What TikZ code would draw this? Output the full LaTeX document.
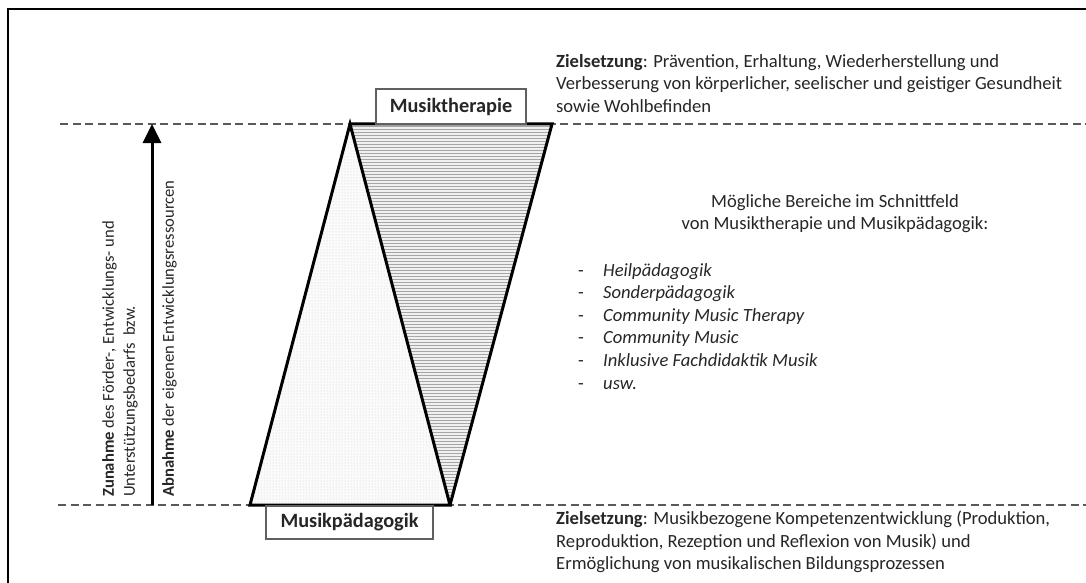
\documentclass[tikz,border=0pt]{standalone}
\usepackage{fontspec}
\setmainfont{Carlito}
\usetikzlibrary{patterns,arrows.meta}
\begin{document}
\begin{tikzpicture}[x=1pt,y=-1pt,
  txt/.style={font=\fontsize{18.6}{22.5}\selectfont, inner sep=0pt, align=left, text=black!85},
  item/.style={font=\fontsize{18.6}{22}\selectfont\itshape, inner sep=0pt, anchor=base west, text=black!85},
  bullet/.style={font=\fontsize{18.6}{22}\selectfont, inner sep=0pt, anchor=base west, text=black!85},
  lbl/.style={draw=gray!75!black, line width=1.2pt, fill=white, font=\fontsize{20.3}{22}\selectfont\bfseries, inner sep=0pt, text=black!85},
  dashline/.style={draw=gray!70!black, line width=1.2pt, dash pattern=on 8pt off 4.5pt},
  thick edge/.style={line width=3pt, line join=miter, black}]
\useasboundingbox (0,0) rectangle (1086,583);
% frame
\draw[line width=2.5pt] (8,583) -- (8,9) -- (1086,9);
% dashed levels
\coordinate (tl) at (60,124);
\coordinate (tr) at (1086,124);
\coordinate (bl) at (58,505);
\coordinate (br) at (1086,505);
\draw[dashline] (tl) -- (tr);
\draw[dashline] (bl) -- (br);
% triangles
\coordinate (A) at (350,124);
\coordinate (B) at (250,505);
\coordinate (C) at (450,505);
\coordinate (D) at (552,124);
\fill[gray!3] (A) -- (B) -- (C) -- cycle;
\fill[pattern=dots, pattern color=gray!40] (A) -- (B) -- (C) -- cycle;
\fill[gray!12] (A) -- (D) -- (C) -- cycle;
\fill[pattern=horizontal lines, pattern color=gray!70] (A) -- (D) -- (C) -- cycle;
\draw[thick edge] (A) -- (B) -- (C) -- cycle;
\draw[thick edge] (A) -- (D) -- (C);
% boxes
\node[lbl, minimum width=150pt, minimum height=35pt] (mt) at (451,106.5) {Musiktherapie};
\node[lbl, minimum width=167pt, minimum height=33pt] (mp) at (349.5,522.5) {Musikpädagogik};
% arrow
\coordinate (a0) at (152,505);
\coordinate (a1) at (152,124);
\draw[line width=3pt, -{Triangle[width=18pt,length=19pt]}] (a0) -- (a1);
% rotated texts
\node[txt, rotate=90, anchor=north west, font=\fontsize{16.6}{21}\selectfont] (zu) at (102,497)
  {\textbf{Zunahme} des Förder-, Entwicklungs- und\\Unterstützungsbedarfs\ \ bzw.};
\node[txt, rotate=90, anchor=north west, font=\fontsize{16.6}{21}\selectfont] (ab) at (162,497)
  {\textbf{Abnahme} der eigenen Entwicklungsressourcen};
% top goal text
\node[txt, anchor=north west] (zt) at (556,54)
  {\textbf{Zielsetzung}: Prävention, Erhaltung, Wiederherstellung und\\Verbesserung von körperlicher, seelischer und geistiger Gesundheit\\sowie Wohlbefinden};
% middle heading
\node[txt, align=center, anchor=north] (mb) at (835,194)
  {Mögliche Bereiche im Schnittfeld\\von Musiktherapie und Musikpädagogik:};
% list
\node[bullet] (d1) at (578,276) {-};
\node[item] (i1) at (603,276) {Heilpädagogik};
\node[bullet] (d2) at (578,298.6) {-};
\node[item] (i2) at (603,298.6) {Sonderpädagogik};
\node[bullet] (d3) at (578,321.2) {-};
\node[item] (i3) at (603,321.2) {Community Music Therapy};
\node[bullet] (d4) at (578,343.8) {-};
\node[item] (i4) at (603,343.8) {Community Music};
\node[bullet] (d5) at (578,366.4) {-};
\node[item] (i5) at (603,366.4) {Inklusive Fachdidaktik Musik};
\node[bullet] (d6) at (578,389) {-};
\node[item] (i6) at (603,389) {usw.};
% bottom goal text
\node[txt, anchor=north west] (zb) at (556,511)
  {\textbf{Zielsetzung}: Musikbezogene Kompetenzentwicklung (Produktion,\\Reproduktion, Rezeption und Reflexion von Musik) und\\Ermöglichung von musikalischen Bildungsprozessen};
\end{tikzpicture}
\end{document}
